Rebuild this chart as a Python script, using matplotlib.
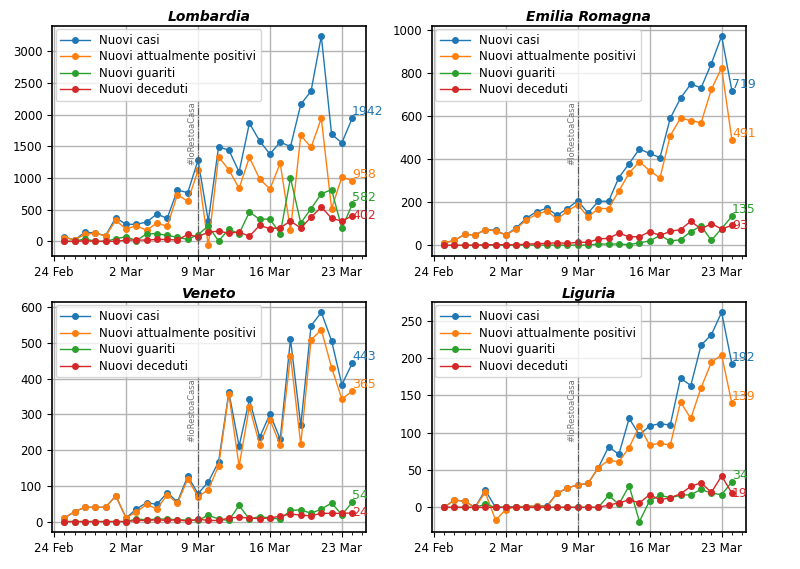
import numpy as np
import pandas as pd
import matplotlib
matplotlib.use("Agg")
import matplotlib.pyplot as plt
import matplotlib.dates as mdates

dates = pd.date_range("2020-02-25", "2020-03-24")

regions = ["Lombardia", "Emilia Romagna", "Veneto", "Liguria"]
labels = ["Nuovi casi", "Nuovi attualmente positivi", "Nuovi guariti", "Nuovi deceduti"]
colors = ["#1f77b4", "#ff7f0e", "#2ca02c", "#d62728"]

lomb_casi = [70, 20, 147, 130, 90, 373, 268, 268, 305, 431, 363, 810, 768, 1280, 320, 1489, 1441, 1094,
             1865, 1584, 1377, 1568, 1494, 2162, 2372, 3240, 1690, 1555, 1942]
lomb_pos = [58, 26, 110, 130, 84, 331, 195, 247, 174, 290, 237, 737, 631, 1120, -63, 1331, 1131, 836,
            1326, 984, 826, 1231, 174, 1673, 1484, 1942, 516, 1015, 958]
lomb_guar = [0, 0, 40, 0, 0, 40, 73, 10, 120, 120, 95, 63, 31, 105, 242, 5, 190, 120, 463, 347, 352,
             120, 1000, 290, 515, 752, 815, 205, 582]
lomb_dec = [0, 0, 10, 0, 0, 0, 20, 20, 20, 30, 30, 20, 110, 70, 147, 160, 130, 147, 80, 252, 200, 215,
            320, 210, 380, 542, 363, 320, 402]

emil_casi = [11, 23, 51, 48, 73, 70, 48, 81, 126, 157, 172, 140, 171, 208, 150, 205, 205, 315, 380, 448,
             427, 408, 591, 684, 750, 732, 845, 973, 719]
emil_pos = [11, 23, 51, 48, 73, 67, 48, 76, 119, 144, 160, 121, 160, 189, 132, 171, 171, 253, 336, 389,
            347, 313, 510, 591, 580, 570, 725, 825, 491]
emil_guar = [0, 0, 0, 0, 1, 1, 1, 1, 1, 1, 1, 1, 1, 1, 1, 6, 6, 6, 3, 12, 20, 46, 20, 26, 64, 90, 23,
             78, 135]
emil_dec = [0, 0, 0, 1, 2, 3, 3, 3, 5, 8, 9, 12, 9, 14, 14, 29, 33, 56, 40, 40, 64, 46, 65, 73, 112, 76,
            101, 76, 93]

vene_casi = [10, 28, 40, 40, 40, 72, 10, 35, 53, 48, 81, 55, 127, 78, 111, 167, 362, 211, 342, 236, 301,
             231, 511, 269, 548, 586, 506, 383, 443]
vene_pos = [10, 28, 40, 40, 40, 72, 10, 27, 48, 35, 75, 51, 119, 70, 89, 156, 357, 155, 322, 215, 285,
            214, 464, 216, 509, 537, 431, 343, 365]
vene_guar = [0, 0, 0, 0, 0, 0, 0, 7, 5, 7, 7, 5, 4, 3, 18, 7, 3, 45, 7, 14, 10, 7, 31, 33, 23, 35, 52,
             19, 54]
vene_dec = [0, 0, 0, 0, 0, 0, 0, 3, 3, 5, 3, 5, 1, 7, 3, 3, 10, 12, 10, 8, 10, 15, 21, 18, 16, 23, 23,
            23, 24]

ligu_casi = [0, 10, 8, 0, 23, 0, 0, 1, 1, 2, 2, 19, 26, 30, 32, 53, 81, 71, 119, 97, 109, 112, 110, 173,
             163, 217, 231, 261, 192]
ligu_pos = [0, 10, 8, 0, 20, -17, -3, 1, 1, 2, 1, 19, 26, 30, 32, 53, 63, 61, 80, 109, 83, 86, 83, 141,
            119, 160, 194, 204, 139]
ligu_guar = [0, 0, 0, 0, 4, 0, 0, 0, 0, 0, 0, 0, 0, 0, 0, 0, 16, 4, 29, -19, 9, 16, 13, 16, 17, 24, 19,
             17, 34]
ligu_dec = [0, 0, 0, 0, 0, 0, 0, 0, 0, 0, 0, 0, 0, 0, 0, 0, 3, 6, 10, 6, 17, 10, 13, 18, 28, 33, 20, 42,
            19]

data = {
    "Lombardia": [lomb_casi, lomb_pos, lomb_guar, lomb_dec],
    "Emilia Romagna": [emil_casi, emil_pos, emil_guar, emil_dec],
    "Veneto": [vene_casi, vene_pos, vene_guar, vene_dec],
    "Liguria": [ligu_casi, ligu_pos, ligu_guar, ligu_dec],
}

lockdown = pd.Timestamp("2020-03-09")

fig, axes = plt.subplots(2, 2, figsize=(8, 5.69), dpi=100)
fig.subplots_adjust(left=0.065, right=0.932, top=0.955, bottom=0.065, wspace=0.21, hspace=0.2)

for ax, reg in zip(axes.flat, regions):
    for series, lab, col in zip(data[reg], labels, colors):
        ax.plot(dates, series, "-o", color=col, label=lab, lw=1, ms=4)
        ax.text(dates[-1], series[-1], f"{series[-1]}", color=col, fontsize=9,
                ha="left", va="bottom" if col != "#d62728" else "center")
    ax.axvline(lockdown, ymax=0.67, color="0.35", ls="-.", lw=0.8)
    y0, y1 = ax.get_ylim()
    ax.text(lockdown - pd.Timedelta(hours=14), y0 + 0.67 * (y1 - y0), "#IoRestoaCasa",
            rotation=90, fontsize=6, color="0.45", ha="center", va="top")
    ax.set_title(reg, fontweight="bold", style="italic", fontsize=10, pad=3)
    ax.set_xlim(pd.Timestamp("2020-02-23 19:00"), pd.Timestamp("2020-03-25 08:00"))
    ax.xaxis.set_major_locator(mdates.WeekdayLocator(byweekday=mdates.MO))
    ax.xaxis.set_minor_locator(mdates.DayLocator())
    ax.xaxis.set_major_formatter(plt.FuncFormatter(
        lambda v, p: f"{mdates.num2date(v).day} {mdates.num2date(v).strftime('%b')}"))
    ax.grid(True, color="0.7", lw=1)
    ax.tick_params(labelsize=8.5)
    for s in ax.spines.values():
        s.set_linewidth(1.2)
    ax.legend(loc="upper left", fontsize=8.5, borderaxespad=0.3, handlelength=2.5, labelspacing=0.3)

plt.savefig("out.png")
